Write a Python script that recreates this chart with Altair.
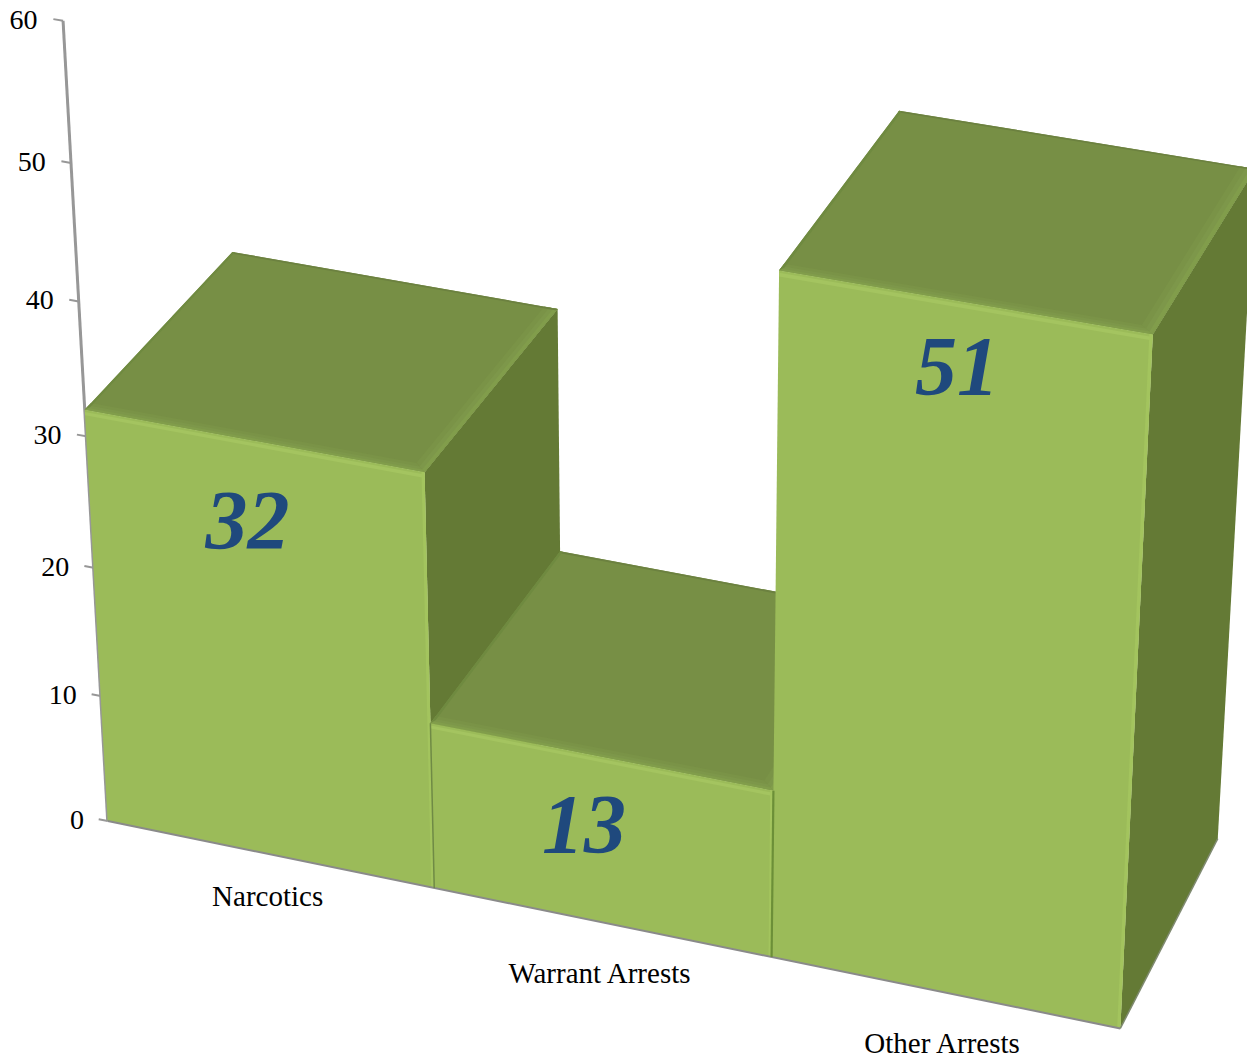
import numpy as np
import altair as alt

# Chart content
CATEGORIES = ["Narcotics", "Warrant Arrests", "Other Arrests"]
VALUES = [32, 13, 51]
AXIS_TICKS = [0, 10, 20, 30, 40, 50, 60]

# Perspective camera: world (category position, value, depth) -> page pixels
CAMERA = np.array([
    [319.5578726, -0.8218842, 153.424088, 107.6905971],
    [52.5906185, -13.3654531, -138.9153225, 821.1040278],
    [-0.0160627, -0.0012377, 0.0498448, 1.0],
])
PAGE_MARGIN = 8
SERIF = "Liberation Serif"

FRONT, TOP, SIDE = "#9BBB59", "#778F45", "#647A35"
BLUE = "#1F497D"
GREY = "#979797"


def project(u, v, w=0.0):
    h = CAMERA @ np.array([u, v, w, 1.0])
    return [float(h[0] / h[2]) - PAGE_MARGIN, float(h[1] / h[2]) - PAGE_MARGIN]


def polygon(corners, fill):
    ring = [project(*c) for c in corners]
    ring.append(ring[0])
    return {"type": "Feature", "properties": {"fill": fill},
            "geometry": {"type": "Polygon", "coordinates": [ring]}}


def line(a, b, stroke, width):
    return {"type": "Feature", "properties": {"stroke": stroke, "width": width},
            "geometry": {"type": "LineString", "coordinates": [project(*a), project(*b)]}}


faces = []
for i, val in enumerate(VALUES):
    l, r = float(i), float(i + 1)
    # right side
    faces.append(polygon([(r, 0, 0), (r, val, 0), (r, val, 1), (r, 0, 1)], SIDE))
    # top
    faces.append(polygon([(l, val, 0), (r, val, 0), (r, val, 1), (l, val, 1)], TOP))
    # top bevels: soft highlight towards the right and front edges, dark rim at back
    for d, c in [(0.04, "#7A9347"), (0.025, "#7D974A"), (0.012, "#819D4B")]:
        faces.append(polygon([(r - d, val, d), (r, val, 0), (r, val, 1), (r - d, val, 1)], c))
        faces.append(polygon([(l, val, 0), (r, val, 0), (r - d, val, d), (l, val, d)], c))
    faces.append(polygon([(l, val, 0.99), (r, val, 0.99), (r, val, 1), (l, val, 1)], "#6C8140"))
    faces.append(polygon([(l, val, 0), (l + 0.008, val, 0.02), (l + 0.008, val, 1), (l, val, 1)], "#6F8A40"))
    # front
    faces.append(polygon([(l, 0, 0), (r, 0, 0), (r, val, 0), (l, val, 0)], FRONT))
    # front bevels
    faces.append(polygon([(l, val - 0.42, 0), (r, val - 0.42, 0), (r, val - 0.17, 0), (l, val - 0.17, 0)], "#A4C460"))
    faces.append(polygon([(r - 0.009, 0, 0), (r, 0, 0), (r, val, 0), (r - 0.009, val, 0)], "#A3C45E"))

axis_lines = [line((0, 0), (0, AXIS_TICKS[-1]), GREY, 3)]
axis_lines += [line((-0.028, t), (0, t), GREY, 2) for t in AXIS_TICKS]

edge_lines = [
    line((0, 0), (3, 0), "#8A8A8A", 2),
    line((3, 0, 0), (3, 0, 1), "#7F8A70", 1.5),
    line((1, 0), (1, 13), "#6F8A45", 1.5),
    line((2, 0), (2, 13), "#6C8F38", 2.2),
]

PROJ = dict(type="identity", scale=1, translate=[0, 0])


def fill_layer(features):
    return (alt.Chart(alt.Data(values=features)).mark_geoshape(strokeWidth=0)
            .encode(fill=alt.Color("properties.fill:N", scale=None))
            .project(**PROJ))


def stroke_layer(features):
    return (alt.Chart(alt.Data(values=features)).mark_geoshape(filled=False)
            .encode(stroke=alt.Stroke("properties.stroke:N", scale=None),
                    strokeWidth=alt.StrokeWidth("properties.width:Q", scale=None))
            .project(**PROJ))


def text_layer(rows, **mark):
    return (alt.Chart(alt.Data(values=rows)).mark_text(font=SERIF, baseline="middle", **mark)
            .encode(longitude="lon:Q", latitude="lat:Q", text="label:N")
            .project(**PROJ))


tick_rows = []
for t in AXIS_TICKS:
    x, y = project(-0.074, t)
    tick_rows.append({"label": str(t), "lon": x, "lat": y})

cat_rows = []
for i, c in enumerate(CATEGORIES):
    x, y = project(i + [0.489, 0.493, 0.497][i], [-3.3, -3.95, -3.87][i])
    cat_rows.append({"label": c, "lon": x, "lat": y})

val_rows = []
for i, val in enumerate(VALUES):
    x, y = project(i + [0.473, 0.45, 0.486][i], val - [6.35, 5.85, 4.75][i])
    val_rows.append({"label": str(val), "lon": x, "lat": y})

chart = alt.layer(
    stroke_layer(axis_lines),
    fill_layer(faces),
    stroke_layer(edge_lines),
    text_layer(tick_rows, fontSize=28, align="right", color="#000000", dy=4.5),
    text_layer(cat_rows, fontSize=29, align="center", color="#000000", dy=3),
    text_layer(val_rows, fontSize=84, align="center", color=BLUE, fontWeight="bold", fontStyle="italic"),
).properties(
    width=1239, height=1049, padding=0, background="#FFFFFF",
    autosize=alt.AutoSizeParams(type="none"),
).configure_view(stroke=None)

chart.save("out.html", embed_options={"renderer": "svg", "actions": False})
